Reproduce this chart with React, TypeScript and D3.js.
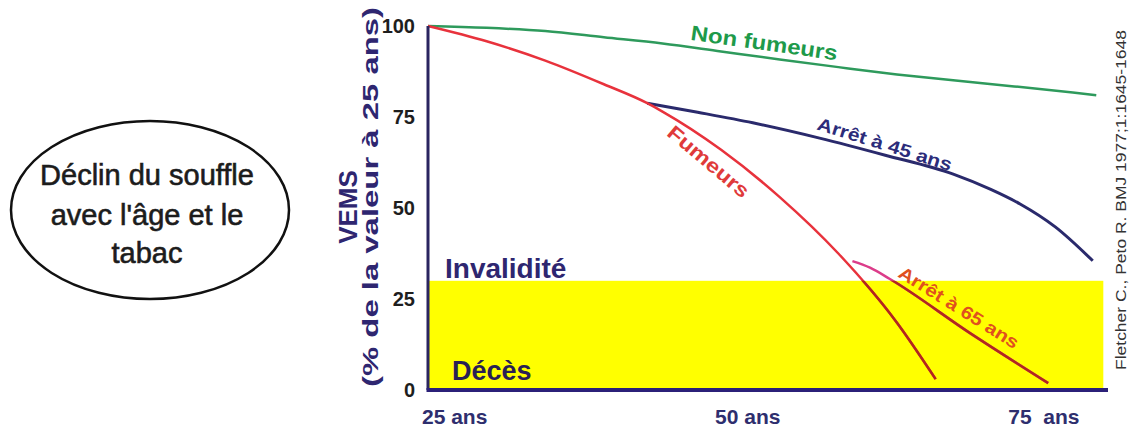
import React from "react";
import * as d3 from "d3";

// ---- data ----
const xTickAges = [25, 50, 75];
const xTickLabels = ["25 ans", "50 ans", "75  ans"];
const yTicks = [0, 25, 50, 75, 100];

const nonSmokerAges = [25, 30, 35, 40, 45, 50, 55, 60, 65, 70, 75, 80, 82];
const nonSmokerFEV = [100, 99.5, 98.6, 96.9, 95.2, 93.0, 90.8, 88.7, 86.7, 85.0, 83.4, 81.7, 81];

const smokerAges = [25, 30, 35, 40, 43.7, 45, 50, 55, 60, 65, 68.3];
const smokerFEV = [100, 95.8, 90.5, 84, 78.8, 76.5, 66, 53, 37.5, 18.5, 3];

const quit45Ages = [43.7, 48, 52.7, 58.4, 64, 69.8, 73, 75.5, 78.5, 81.7];
const quit45FEV = [78.8, 76.3, 73.4, 69.2, 64.5, 59.3, 55.1, 51.1, 44.8, 35.5];

const quit65Ages = [61.2, 62.7, 64.4, 71.2, 77.9];
const quit65FEV = [35.4, 33.6, 30.5, 15.7, 1.9];

const disabilityLevel = 30;
const xDomain = [25, 83];
const yellowEndAge = 82.6;

const FONT = "'Liberation Sans', Arial, sans-serif";

type P = [number, number];
const zip = (a: number[], b: number[]): P[] => a.map((v, i) => [v, b[i]]);

export default function App() {
  const x = d3.scaleLinear().domain(xDomain).range([428, 1108]);
  const y = d3.scaleLinear().domain([0, 100]).range([390, 26]);
  const line = d3
    .line<P>()
    .x((d) => x(d[0]))
    .y((d) => y(d[1]))
    .curve(d3.curveMonotoneX);

  const nonSmoker = line(zip(nonSmokerAges, nonSmokerFEV)) || "";
  const smoker = line(zip(smokerAges, smokerFEV)) || "";
  const quit45 = line(zip(quit45Ages, quit45FEV)) || "";
  const quit65 = line(zip(quit65Ages, quit65FEV)) || "";

  const yellowX0 = x(25);
  const yellowX1 = x(yellowEndAge);
  const yellowY0 = y(disabilityLevel);
  const yellowY1 = y(0);

  const lbl = (a: number, v: number, r: number) =>
    `translate(${x(a)},${y(v)}) rotate(${r})`;

  return (
    <svg
      width={1136}
      height={430}
      style={{ position: "absolute", left: 0, top: 0, display: "block", background: "#fff" }}
      fontFamily={FONT}
    >
      <defs>
        <clipPath id="yellowClip">
          <rect x={yellowX0} y={yellowY0} width={yellowX1 - yellowX0} height={yellowY1 - yellowY0} />
        </clipPath>
      </defs>

      {/* ellipse note */}
      <ellipse cx={150} cy={210} rx={139} ry={89} fill="none" stroke="#111" strokeWidth={2.5} />
      <g fontSize={29} fill="#1c1c1c" stroke="#1c1c1c" strokeWidth={0.6} textAnchor="middle">
        <text x={147} y={185}>Déclin du souffle</text>
        <text x={147} y={225}>avec l'âge et le</text>
        <text x={147} y={263}>tabac</text>
      </g>

      {/* yellow zone */}
      <rect
        x={yellowX0}
        y={yellowY0}
        width={yellowX1 - yellowX0}
        height={yellowY1 - yellowY0}
        fill="#ffff00"
      />

      {/* curves */}
      <path d={nonSmoker} fill="none" stroke="#2e9a5c" strokeWidth={2.5} />
      <path d={quit45} fill="none" stroke="#2a2a6c" strokeWidth={3} />
      <path d={smoker} fill="none" stroke="#e8323c" strokeWidth={2.5} />
      <path d={quit65} fill="none" stroke="#dc3c8a" strokeWidth={2.5} />
      <g clipPath="url(#yellowClip)">
        <path d={smoker} fill="none" stroke="#b0281e" strokeWidth={2.5} />
        <path d={quit65} fill="none" stroke="#b0281e" strokeWidth={2.5} />
      </g>

      {/* axes */}
      <line x1={x(25)} x2={x(25)} y1={y(100)} y2={y(0)} stroke="#2a2560" strokeWidth={3} />
      <line x1={x(25) - 1.5} x2={x(xDomain[1])} y1={y(0)} y2={y(0)} stroke="#2b2078" strokeWidth={4} />

      {/* y ticks */}
      <g fontSize={20} fontWeight="bold" fill="#1e1e1e" textAnchor="end">
        {yTicks.map((t) => (
          <text key={t} x={415} y={y(t)} dy="0.36em">
            {t}
          </text>
        ))}
      </g>

      {/* x ticks */}
      <g fontSize={21} fontWeight="bold" fill="#2e2e6e" textAnchor="start">
        {xTickAges.map((a, i) => (
          <text key={a} x={x(a) - 6} y={424} style={{ whiteSpace: "pre" }}>
            {xTickLabels[i]}
          </text>
        ))}
      </g>

      {/* y axis title */}
      <g fill="#2e2670" fontWeight="bold" textAnchor="middle">
        <text transform="translate(357,207) rotate(-90)" fontSize={26}>
          VEMS
        </text>
        <text
          transform="translate(378,197) rotate(-90)"
          fontSize={22}
          textLength={380}
          lengthAdjust="spacingAndGlyphs"
        >
          (% de la valeur à 25 ans)
        </text>
      </g>

      {/* zone labels */}
      <text x={x(26.45)} y={y(30.8)} fontSize={28} fontWeight="bold" fill="#2e2670">
        Invalidité
      </text>
      <text x={x(27.05)} y={y(2.75)} fontSize={27} fontWeight="bold" fill="#2a1f55">
        Décès
      </text>

      {/* curve labels */}
      <g fontWeight="bold" textAnchor="middle">
        <text
          transform={lbl(53.6, 93.4, 8)}
          fontSize={21}
          fill="#1e9a4a"
          textLength={148}
          lengthAdjust="spacingAndGlyphs"
        >
          Non fumeurs
        </text>
        <text
          transform={lbl(48.55, 61.3, 40)}
          fontSize={20}
          fill="#e03a3a"
          textLength={100}
          lengthAdjust="spacingAndGlyphs"
        >
          Fumeurs
        </text>
        <text
          transform={lbl(63.8, 65.9, 17.4)}
          fontSize={18}
          fill="#2c2c7a"
          textLength={140}
          lengthAdjust="spacingAndGlyphs"
        >
          Arrêt à 45 ans
        </text>
        <text
          transform={lbl(70.0, 21.2, 32)}
          fontSize={18}
          fill="#e0501e"
          textLength={138}
          lengthAdjust="spacingAndGlyphs"
        >
          Arrêt à 65 ans
        </text>
      </g>

      {/* source */}
      <text
        transform="translate(1126,200) rotate(-90)"
        fontSize={14}
        fill="#333"
        textAnchor="middle"
        textLength={340}
        lengthAdjust="spacingAndGlyphs"
      >
        Fletcher C., Peto R. BMJ 1977;1:1645-1648
      </text>
    </svg>
  );
}
